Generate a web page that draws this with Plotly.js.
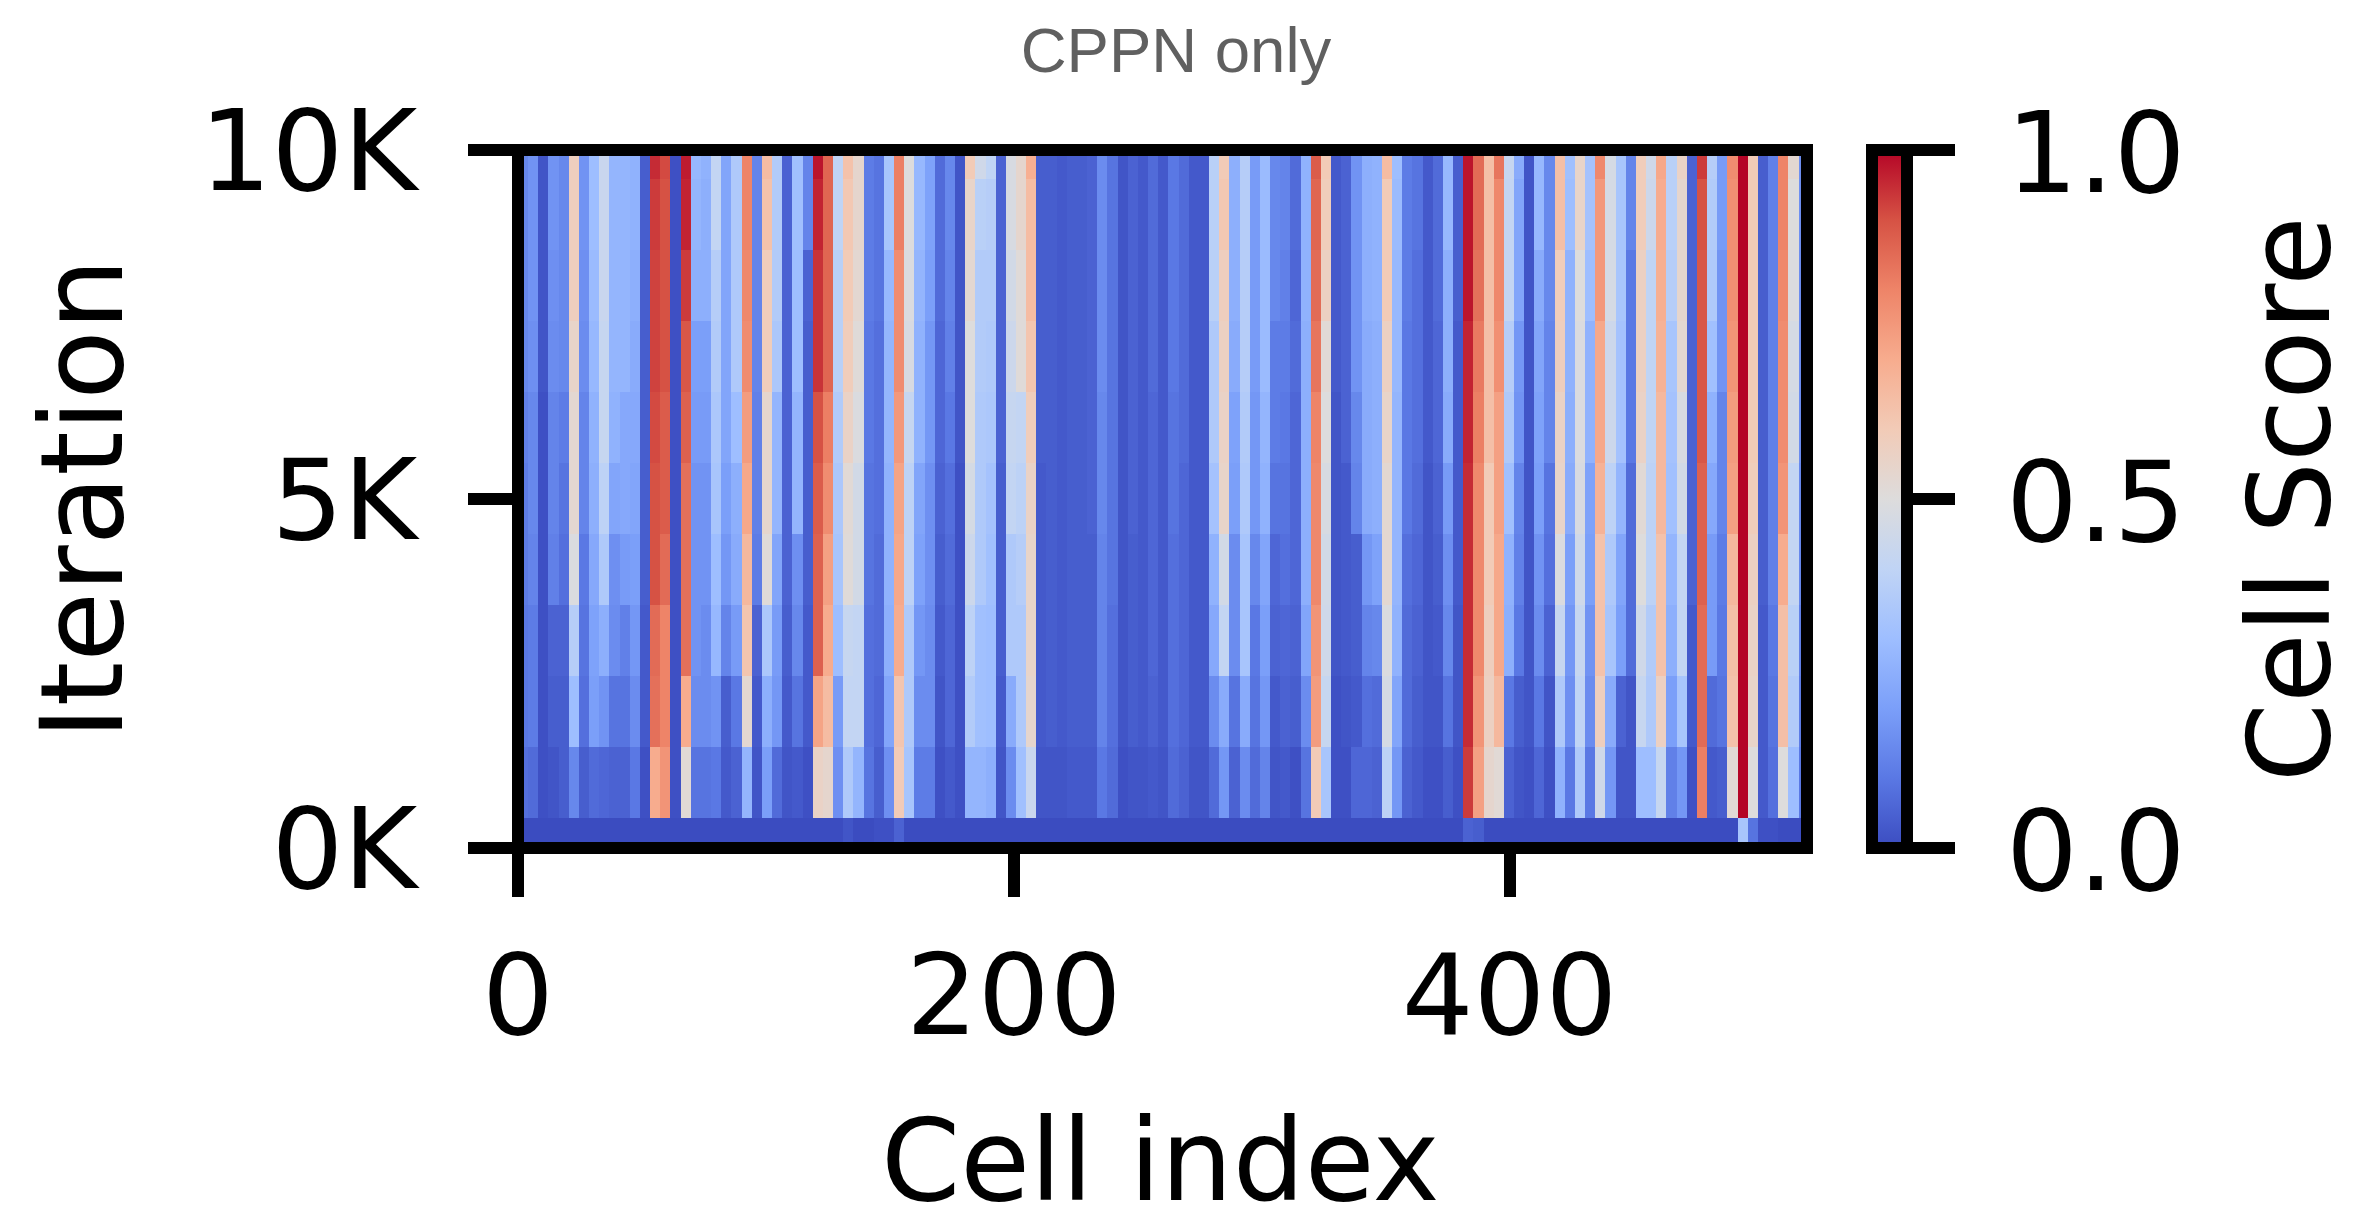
<!DOCTYPE html>
<html><head><meta charset="utf-8">
<script src="https://cdn.plot.ly/plotly-3.0.1.min.js"></script>
<style>html,body{margin:0;padding:0;background:#fff}</style></head>
<body><div id="chart" style="width:2371px;height:1205px"></div>
<script>
// Scores in hundredths; each list runs from the top band (10K) to the bottom band (0K)
const cellsA = [
[14,14,14,14,12,11,11,10,10,8,0],[17,17,17,16,14,14,13,11,11,7,0],[2,2,2,2,1,1,1,1,1,1,0],[17,17,16,15,13,13,12,5,4,2,0],
[14,14,14,14,11,9,8,5,4,4,0],[58,58,58,55,53,53,49,37,30,14,0],[17,17,16,15,13,13,10,9,8,4,0],[30,30,29,28,26,25,23,21,20,7,0],
[43,43,43,42,42,39,35,25,17,6,0],[27,27,27,27,26,22,16,15,9,5,0],[27,27,27,27,23,23,19,12,9,5,0],[26,26,25,24,23,22,20,18,15,10,0],
[4,4,4,4,4,4,4,3,3,1,0],[95,93,92,92,91,90,90,85,84,70,0],[91,90,90,90,88,88,85,80,80,76,0],[1,1,1,1,1,1,1,1,1,1,0],
[97,96,93,89,87,84,84,84,70,52,0],[28,27,25,20,19,17,17,17,15,9,0],[26,25,25,20,19,17,17,15,15,9,0],[41,41,37,36,34,33,30,28,17,10,0],
[22,22,22,22,22,20,18,13,4,3,0],[35,35,35,35,30,25,24,19,10,5,0],[80,80,79,78,74,71,66,62,53,27,0],[13,13,13,13,12,12,11,5,3,2,0],
[65,63,59,59,54,54,51,34,25,20,0],[36,36,36,34,27,27,22,19,18,7,0],[5,5,5,5,5,5,5,4,3,2,0],[31,31,30,30,27,27,16,14,9,3,0],
[13,13,5,4,4,4,4,3,3,1,0],[98,96,94,94,90,88,87,87,72,56,0],[86,86,86,86,81,78,73,70,65,54,0],[40,40,38,38,36,34,33,30,19,16,0],
[63,61,60,59,56,52,51,42,41,35,2],[54,54,53,51,49,46,46,41,41,27,0],[11,11,11,10,10,9,9,8,8,9,0],[9,9,9,8,8,8,7,7,6,4,1],
[33,33,28,27,27,26,26,25,22,16,1],[81,81,78,78,75,72,71,70,62,60,5],[50,50,49,48,42,39,39,35,35,33,0],[28,28,27,26,26,22,21,18,15,11,0],
[21,21,20,18,18,16,16,15,15,11,0],[7,7,7,6,6,5,4,3,2,1,0]
];
const cellsB = [
[14,14,13,12,10,8,7,6,6,3,0],[2,2,2,2,2,1,1,1,1,1,0],[60,55,53,50,50,47,44,39,36,27,0],[45,38,36,36,35,35,35,31,31,27,0],
[40,37,36,35,34,32,31,30,30,25,0],[5,5,5,5,5,4,4,4,3,2,0],[48,48,46,44,42,41,35,35,24,15,0],[54,54,51,51,41,39,37,35,35,31,0],
[69,65,65,62,59,56,55,55,54,43,0],[4,4,4,4,4,3,3,3,3,2,0],[4,4,4,4,4,4,4,4,4,2,0],[3,3,3,3,3,3,3,3,3,2,0],
[4,4,4,4,4,4,4,4,4,3,0],[4,4,4,4,4,4,4,4,4,3,0],[5,5,5,5,5,5,4,4,4,3,0],[15,15,15,15,14,14,13,13,13,10,0],
[9,9,9,9,9,9,9,8,8,7,0],[2,2,2,2,2,2,2,2,2,1,0],[5,5,5,5,5,5,4,4,4,2,0],[3,3,3,3,3,3,3,3,3,2,0],
[7,7,7,7,6,6,6,6,5,3,0],[3,3,3,3,3,3,3,3,3,2,0],[10,10,10,10,9,9,8,8,8,7,0],[7,7,7,7,7,6,6,6,6,5,0],
[3,3,3,3,3,3,3,3,3,2,0],[3,3,3,3,3,3,3,3,3,2,0],[38,38,38,35,35,32,26,23,15,7,0],[60,61,58,57,56,55,46,41,24,18,0],
[25,25,25,24,21,20,15,15,9,5,0],[37,37,37,37,36,35,33,33,24,15,0],[19,19,19,19,18,18,14,10,9,7,0],[29,29,29,29,27,26,22,20,18,13,0],
[14,14,14,11,11,9,6,5,3,2,0],[13,13,12,11,10,9,8,6,5,3,0],[7,7,6,7,6,6,6,5,4,1,0],[26,26,26,25,25,25,25,22,15,9,0],
[88,86,85,83,80,79,79,76,74,60,0],[60,59,57,52,50,48,46,45,42,33,0],[3,3,3,3,2,2,2,2,1,1,0],[5,5,5,5,5,3,3,3,2,1,0],
[17,17,17,17,14,13,4,4,3,6,0],[25,25,25,24,24,24,18,13,8,6,0]
];
const cellsC = [
[26,26,26,25,25,25,21,14,7,5,0],[65,60,60,57,55,53,53,49,47,39,0],[30,29,28,28,27,27,27,26,22,18,0],[11,11,11,10,10,10,8,7,7,5,0],
[9,9,8,8,8,7,6,5,4,3,0],[3,3,3,3,3,2,2,2,2,1,0],[7,7,7,6,6,5,4,3,2,1,0],[28,28,25,25,24,19,16,14,9,4,0],
[4,4,4,3,3,3,3,2,2,1,0],[98,98,98,96,96,95,95,95,95,93,5],[85,85,84,82,81,79,79,79,76,73,4],[64,64,64,64,64,60,60,58,57,54,0],
[83,79,79,77,73,73,71,71,66,52,0],[42,41,41,37,35,31,26,25,10,5,0],[24,22,22,18,17,13,12,10,4,2,0],[2,2,2,2,2,2,2,2,2,1,0],
[28,28,24,22,21,20,17,15,10,6,0],[14,14,14,13,13,9,8,5,2,1,0],[64,64,59,58,56,55,49,42,35,26,0],[31,30,26,26,25,24,20,18,16,10,0],
[55,55,50,49,49,48,45,42,40,35,0],[32,32,30,26,26,21,20,17,15,10,0],[79,75,75,71,71,68,63,63,58,45,0],[47,47,47,44,44,39,35,33,24,18,0],
[33,33,33,32,32,27,22,20,5,2,0],[13,13,10,10,10,7,7,7,2,2,0],[59,59,57,57,56,52,50,45,42,30,0],[45,44,40,40,40,39,39,36,35,30,0],
[71,70,69,68,66,66,63,63,57,42,0],[38,38,37,33,32,31,27,25,20,12,0],[56,54,54,53,48,46,41,41,33,18,0],[5,5,5,5,5,5,5,3,3,1,0],
[93,90,89,89,89,87,87,85,85,81,0],[37,36,35,31,26,23,19,19,7,3,0],[19,19,17,17,13,13,11,10,9,4,0],[78,77,77,76,74,73,66,64,63,52,0],
[100,100,100,100,100,100,100,100,100,100,33],[60,60,60,60,60,59,57,56,55,50,9],[4,4,4,4,4,4,4,3,3,3,1],[12,12,12,12,12,12,12,10,9,8,1],
[80,80,79,78,78,76,70,64,64,50,0],[53,50,49,47,46,41,41,38,36,30,0],[16,16,15,15,15,14,14,12,11,10,0]
];
const iterationEdges = [0,425,1442,2459,3476,4493,5510,6527,7544,8561,9578,10000];
const yTickValues = [0,5000,10000];
const yTickLabels = ['0K','5K','10K'];
const xTickValues = [0,200,400];
const cbTicks = [0,0.5,1];
const cbLabels = ['0.0','0.5','1.0'];
const cellWidth = 4.1;
const coolwarm = ['#3b4cc0','#5a78e4','#7b9ff9','#9ebeff','#c0d4f5','#dddcdc','#f2cbb7','#f7ac8e','#ee8468','#d65244','#b40426'];

const columns = cellsA.concat(cellsB, cellsC);
const z = [];
for (let row = 10; row >= 0; row--) z.push(columns.map(c => c[row] / 100));

const tickFont = {family: 'DejaVu Sans, sans-serif', size: 113, color: '#000'};
const labelFont = {family: 'DejaVu Sans, sans-serif', size: 113.5, color: '#000'};
const lineW = 12;
const paperX = px => (px - 518) / 1289.5;
const paperY = py => (848 - py) / 698.5;
const trace = {
  type: 'heatmap', z: z, x0: cellWidth / 2, dx: cellWidth, y: iterationEdges,
  zmin: 0, zmax: 1, zsmooth: false, hoverinfo: 'skip',
  colorscale: coolwarm.map((c, i) => [i / 10, c]),
  colorbar: {
    x: paperX(1873), xanchor: 'left', xref: 'paper', xpad: 0, ypad: 0,
    y: 0.5, yanchor: 'middle', len: 1, lenmode: 'fraction',
    thickness: 35, thicknessmode: 'pixels',
    outlinewidth: lineW, outlinecolor: '#000',
    tickmode: 'array', tickvals: cbTicks, showticklabels: false,
    ticks: 'outside', ticklen: 42.5, tickwidth: lineW, tickcolor: '#000'
  }
};
const annotations = [
  {text: 'Cell Score', xref: 'paper', yref: 'paper', x: paperX(2291), y: 0.5, xanchor: 'center', yanchor: 'middle',
   textangle: -90, showarrow: false, font: labelFont},
  {text: 'Cell index', xref: 'paper', yref: 'paper', x: paperX(1161), y: paperY(1161), xanchor: 'center', yanchor: 'middle',
   showarrow: false, font: labelFont}
];
cbTicks.forEach((v, i) => annotations.push({text: cbLabels[i], xref: 'paper', yref: 'paper', x: paperX(2097), y: v, yshift: -3,
  xanchor: 'center', yanchor: 'middle', showarrow: false, font: tickFont}));
const layout = {
  width: 2371, height: 1205, paper_bgcolor: '#fff', plot_bgcolor: '#fff', showlegend: false,
  margin: {l: 518, r: 563.5, t: 149.5, b: 357, pad: 0},
  title: {text: 'CPPN only', x: 1176 / 2371, xanchor: 'center', xref: 'container', y: 1 - 50 / 1205, yanchor: 'middle', yref: 'container',
          font: {family: 'Liberation Sans, sans-serif', size: 63.5, color: '#606060'}},
  xaxis: {range: [0, 520], showgrid: false, zeroline: false, showline: false, fixedrange: true,
          tickmode: 'array', tickvals: xTickValues, ticks: 'outside', ticklen: 48, tickwidth: lineW, tickcolor: '#000',
          ticklabelstandoff: 1, tickfont: tickFont},
  yaxis: {range: [0, 10000], showgrid: false, zeroline: false, showline: false, fixedrange: true,
          tickmode: 'array', tickvals: yTickValues, ticktext: yTickLabels, ticks: 'outside', ticklen: 49, tickwidth: lineW, tickcolor: '#000',
          ticklabelstandoff: 28, tickfont: tickFont,
          title: {text: 'Iteration', font: labelFont, standoff: 38}},
  shapes: [{type: 'rect', xref: 'paper', yref: 'paper', x0: 0, x1: 1, y0: 0, y1: 1, layer: 'above', line: {color: '#000', width: lineW}, fillcolor: 'rgba(0,0,0,0)'}],
  annotations: annotations
};
Plotly.newPlot('chart', [trace], layout, {displayModeBar: false, staticPlot: true});
</script></body></html>
